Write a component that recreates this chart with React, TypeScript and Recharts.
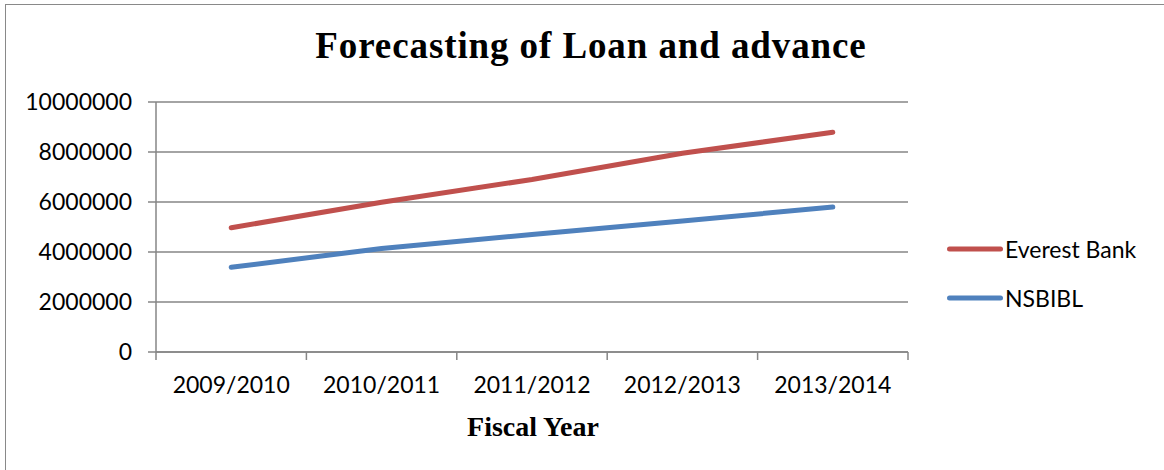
import React from 'react';
import { LineChart, Line, XAxis, YAxis, CartesianGrid } from 'recharts';

const fiscalYears = ['2009/2010', '2010/2011', '2011/2012', '2012/2013', '2013/2014'];
const everestBank = [4970000, 5990000, 6900000, 7950000, 8790000];
const nsbibl = [3390000, 4140000, 4700000, 5240000, 5800000];
const yTicks = [0, 2000000, 4000000, 6000000, 8000000, 10000000];

const series = [
    { key: 'everest', name: 'Everest Bank', color: '#C0504D' },
    { key: 'nsbibl', name: 'NSBIBL', color: '#4F81BD' },
];

const data = fiscalYears.map((year, i) => ({
    year,
    everest: everestBank[i],
    nsbibl: nsbibl[i],
}));

const WIDTH = 1164;
const HEIGHT = 470;
const PLOT_LEFT = 156;
const PLOT_RIGHT = 908;
const GRID = '#868686';
const labelFont = 'Lato, "Open Sans", sans-serif';
const serifFont = '"Liberation Serif", "DejaVu Serif", serif';

const band = (PLOT_RIGHT - PLOT_LEFT) / fiscalYears.length;

// Excel puts the x ticks between categories, so draw them from the tick renderer
const XTick = (props: any) => {
    const { x, y, payload, index } = props;
    const left = x - band / 2;
    return (
        <g>
            <line x1={left} y1={y} x2={left} y2={y + 8} stroke={GRID} strokeWidth={1.5} />
            {index === fiscalYears.length - 1 && (
                <line x1={x + band / 2} y1={y} x2={x + band / 2} y2={y + 8} stroke={GRID} strokeWidth={1.5} />
            )}
            <text x={x} y={y + 41} textAnchor="middle" fontFamily={labelFont} fontSize={23} fill="#000">
                {payload.value}
            </text>
        </g>
    );
};

const App = () => {
    return (
        <div
            style={{
                position: 'absolute',
                left: 0,
                top: 0,
                width: WIDTH,
                height: HEIGHT,
                overflow: 'hidden',
                background: '#fff',
            }}
        >
            <div
                style={{
                    position: 'absolute',
                    left: 5,
                    top: 4,
                    width: 1400,
                    height: 700,
                    border: '1.5px solid #898989',
                }}
            />
            <div
                style={{
                    position: 'absolute',
                    left: 291,
                    width: 600,
                    top: 27,
                    textAlign: 'center',
                    fontFamily: serifFont,
                    fontWeight: 'bold',
                    fontSize: 37,
                    letterSpacing: 0.9,
                    lineHeight: '37px',
                    color: '#000',
                }}
            >
                Forecasting of Loan and advance
            </div>
            <div style={{ position: 'absolute', left: 0, top: 0 }}>
                <LineChart
                    width={WIDTH}
                    height={HEIGHT}
                    data={data}
                    margin={{ top: 102, right: WIDTH - PLOT_RIGHT, bottom: 58, left: 0 }}
                >
                    <CartesianGrid vertical={false} stroke={GRID} strokeWidth={1.5} />
                    <XAxis
                        dataKey="year"
                        height={60}
                        padding={{ left: band / 2, right: band / 2 }}
                        axisLine={{ stroke: GRID, strokeWidth: 1.5 }}
                        tickLine={false}
                        tickSize={0}
                        tickMargin={0}
                        interval={0}
                        tick={<XTick />}
                    />
                    <YAxis
                        width={PLOT_LEFT}
                        domain={[0, 10000000]}
                        ticks={yTicks}
                        interval={0}
                        axisLine={{ stroke: GRID, strokeWidth: 1.5 }}
                        tickLine={{ stroke: GRID, strokeWidth: 1.5 }}
                        tickSize={8}
                        tickMargin={16}
                        tick={{ fontFamily: labelFont, fontSize: 23, fill: '#000' }}
                    />
                    {series.map((s) => (
                        <Line
                            key={s.key}
                            type="linear"
                            dataKey={s.key}
                            name={s.name}
                            stroke={s.color}
                            strokeWidth={5}
                            strokeLinecap="round"
                            dot={false}
                            activeDot={false}
                            isAnimationActive={false}
                        />
                    ))}
                </LineChart>
            </div>
            <div
                style={{
                    position: 'absolute',
                    left: 333,
                    width: 400,
                    top: 413,
                    textAlign: 'center',
                    fontFamily: serifFont,
                    fontWeight: 'bold',
                    fontSize: 28,
                    lineHeight: '28px',
                    color: '#000',
                }}
            >
                Fiscal Year
            </div>
            {series.map((s, i) => (
                <div
                    key={s.key}
                    style={{
                        position: 'absolute',
                        left: 946,
                        top: 249 + i * 49 - 14,
                        height: 28,
                        display: 'flex',
                        alignItems: 'center',
                        fontFamily: labelFont,
                        fontSize: 23,
                        color: '#000',
                        whiteSpace: 'nowrap',
                    }}
                >
                    <svg width={58} height={10} style={{ display: 'block' }}>
                        <line x1={3.5} y1={5} x2={54.5} y2={5} stroke={s.color} strokeWidth={5} strokeLinecap="round" />
                    </svg>
                    <span style={{ marginLeft: 1 }}>{s.name}</span>
                </div>
            ))}
        </div>
    );
};

export default App;
